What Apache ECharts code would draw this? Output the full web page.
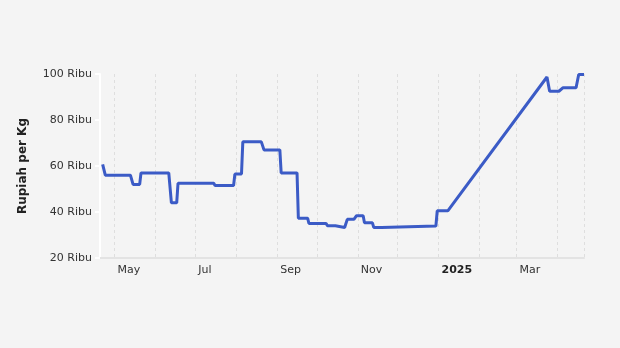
<!DOCTYPE html>
<html>
<head>
<meta charset="utf-8">
<script src="https://cdn.jsdelivr.net/npm/echarts@6/dist/echarts.min.js"></script>
<style>
html,body{margin:0;padding:0;background:#f4f4f4;}
#c{width:620px;height:348px;}
</style>
</head>
<body>
<div id="c"></div>
<script>
const axisStart = '2024-04-20';
const axisEnd = '2025-04-21';
const dates = [
  '2024-04-22','2024-04-24','2024-05-13','2024-05-15','2024-05-20','2024-05-21',
  '2024-06-11','2024-06-13','2024-06-17','2024-06-18','2024-07-15','2024-07-16',
  '2024-07-30','2024-07-31','2024-08-05','2024-08-06','2024-08-20','2024-08-22',
  '2024-09-03','2024-09-04','2024-09-16','2024-09-17','2024-09-24','2024-09-25',
  '2024-10-08','2024-10-09','2024-10-15','2024-10-16','2024-10-22','2024-10-24',
  '2024-10-29','2024-10-31','2024-11-05','2024-11-06','2024-11-12','2024-11-13',
  '2024-11-19','2024-11-20','2024-12-30','2024-12-31','2025-01-08','2025-03-24',
  '2025-03-26','2025-04-02','2025-04-05','2025-04-15','2025-04-17','2025-04-21'
];
const values = [
  60.7, 56, 56, 52, 52, 57,
  57, 44, 44, 52.5, 52.5, 51.5,
  51.5, 56.5, 56.5, 70.5, 70.5, 67,
  67, 57, 57, 37.3, 37.3, 35,
  35, 34, 34, 33.3, 33.3, 36.8,
  36.8, 38.4, 38.4, 35.3, 35.3, 33.3,
  33.3, 33.9, 33.9, 40.5, 40.5, 98.7,
  92.5, 92.5, 94, 94, 99.8, 99.8
];
const yTicks = [20, 40, 60, 80, 100];
const monthNames = ['Jan','Feb','Mar','Apr','May','Jun','Jul','Aug','Sep','Oct','Nov','Dec'];
const yAxisTitle = 'Rupiah per Kg';

function toTs(s){ const p = s.split('-').map(Number); return new Date(p[0], p[1]-1, p[2]).getTime(); }
const seriesData = dates.map((d,i)=>[toTs(d), values[i]]);

const chart = echarts.init(document.getElementById('c'), null, {renderer:'canvas'});
chart.setOption({
  backgroundColor:'#f4f4f4',
  animation:false,
  textStyle:{fontFamily:'DejaVu Sans'},
  grid:{left:100, right:36, top:74, bottom:90},
  xAxis:{
    type:'time',
    min: toTs(axisStart),
    max: toTs(axisEnd),
    minInterval: 28*86400000,
    maxInterval: 31*86400000,
    axisLine:{show:true, lineStyle:{color:'#e3e3e3', width:2}},
    axisTick:{show:false},
    splitLine:{show:true, lineStyle:{color:'#dedede', type:[3,3], width:1}},
    axisLabel:{
      showMinLabel:false, showMaxLabel:false,
      hideOverlap:false,
      align:'left',
      margin:7,
      padding:[0,0,0,3],
      color:'#333',
      fontSize:11,
      formatter:function(v){
        const d = new Date(v);
        const m = d.getMonth();
        if (d.getDate() !== 1) return '';
        if (m === 0) return '{b|' + d.getFullYear() + '}';
        if (m % 2 === 0) return monthNames[m];
        return '';
      },
      rich:{b:{fontWeight:'bold', fontSize:11, color:'#222', fontFamily:'DejaVu Sans'}}
    }
  },
  yAxis:{
    type:'value',
    min:yTicks[0], max:yTicks[yTicks.length-1], interval:20,
    name:yAxisTitle,
    nameLocation:'middle',
    nameGap:71,
    nameTextStyle:{fontWeight:'bold', fontSize:12, color:'#222', fontFamily:'DejaVu Sans'},
    axisLine:{show:true, lineStyle:{color:'#ffffff', width:2}},
    axisTick:{show:true, length:5, lineStyle:{color:'#ffffff', width:2}},
    splitLine:{show:false},
    axisLabel:{color:'#333', fontSize:11, margin:8, formatter:function(v){return v + ' Ribu';}}
  },
  series:[{
    type:'line',
    data:seriesData,
    showSymbol:false,
    symbol:'none',
    lineStyle:{color:'#3b5bc6', width:3},
    itemStyle:{color:'#3b5bc6'}
  }]
});
</script>
</body>
</html>
